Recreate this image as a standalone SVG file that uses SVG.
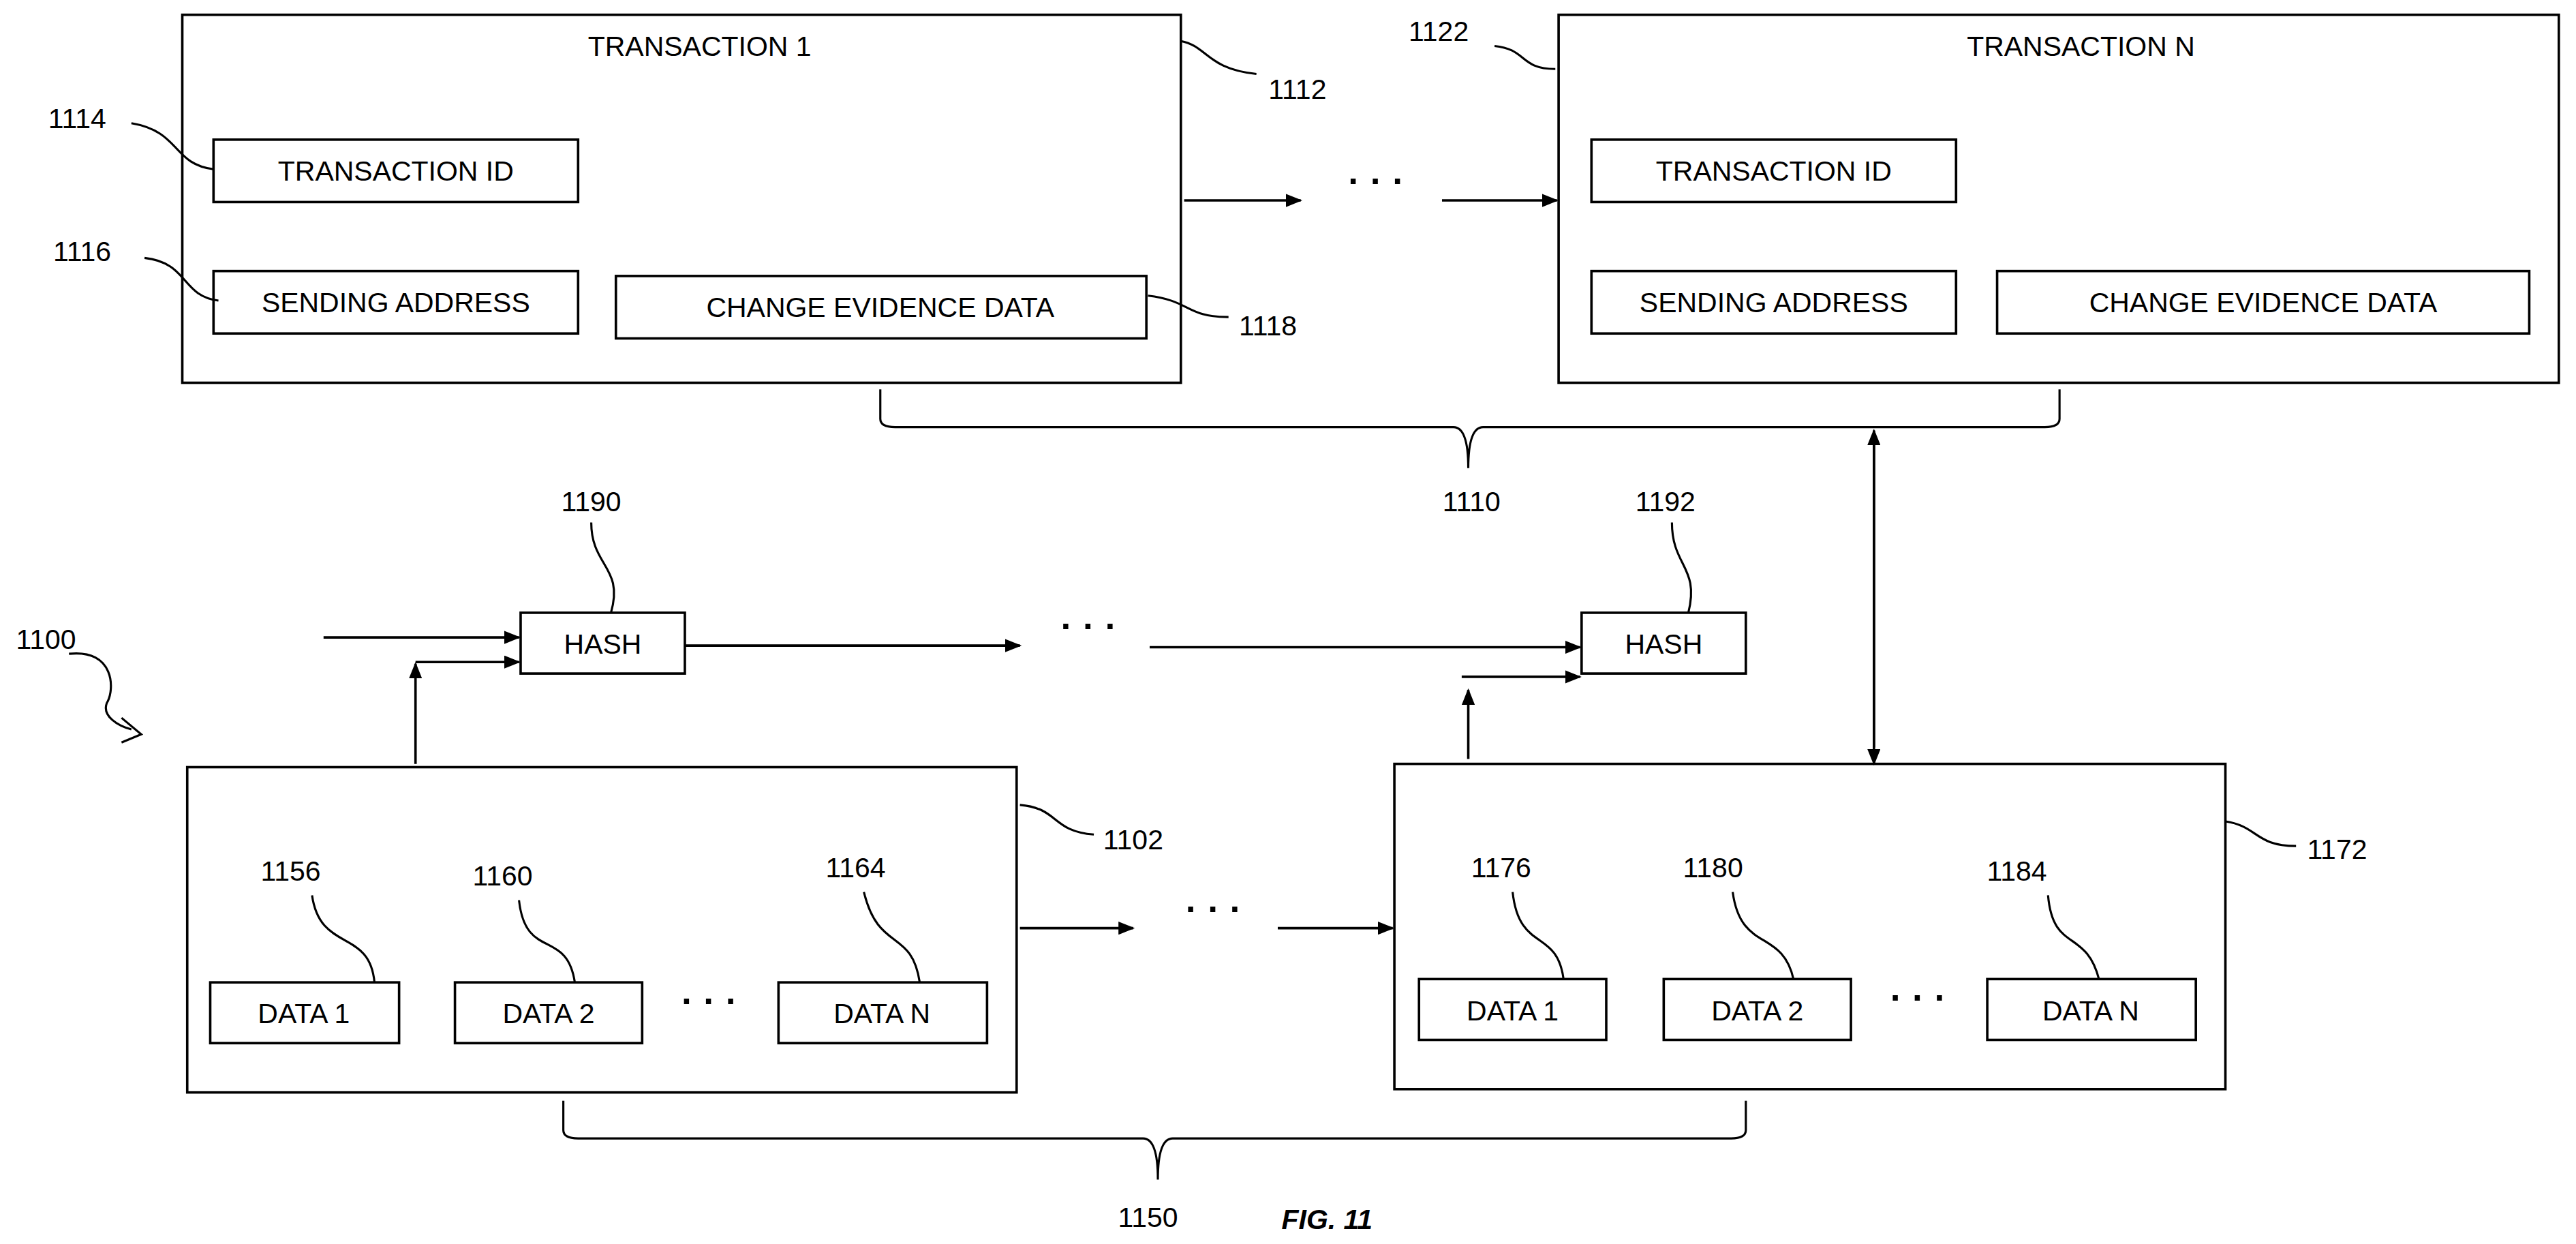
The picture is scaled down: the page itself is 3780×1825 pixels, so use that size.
<svg xmlns="http://www.w3.org/2000/svg" width="3780" height="1825" viewBox="0 0 3780 1825">
<style>
.b{fill:#fff;stroke:#000;stroke-width:1.5}
.l{fill:none;stroke:#000;stroke-width:1.3}
.a{fill:none;stroke:#000;stroke-width:1.5;marker-end:url(#ah)}
text{font-family:"Liberation Sans",Arial,sans-serif;font-size:17px;fill:#000;text-anchor:middle}
.d{font-size:22px;font-weight:bold}
</style>
<defs><marker id="ah" markerWidth="10" markerHeight="8" refX="9" refY="4" orient="auto" markerUnits="userSpaceOnUse"><path d="M0,0 L10,4 L0,8 Z" fill="#000"/></marker></defs>
<rect width="3780" height="1825" fill="#fff"/>
<g transform="scale(2.41)">
<g id="tx1"><rect class="b" x="111" y="9" width="608" height="224"/><text x="426" y="34">TRANSACTION 1</text></g>
<g id="tx1id"><rect class="b" x="130" y="85" width="222" height="38"/><text x="241" y="110">TRANSACTION ID</text></g>
<g id="tx1send"><rect class="b" x="130" y="165" width="222" height="38"/><text x="241" y="190">SENDING ADDRESS</text></g>
<g id="tx1chg"><rect class="b" x="375" y="168" width="323" height="38"/><text x="536" y="193">CHANGE EVIDENCE DATA</text></g>
<g id="txN"><rect class="b" x="949" y="9" width="609" height="224"/><text x="1267" y="34">TRANSACTION N</text></g>
<g id="txNid"><rect class="b" x="969" y="85" width="222" height="38"/><text x="1080" y="110">TRANSACTION ID</text></g>
<g id="txNsend"><rect class="b" x="969" y="165" width="222" height="38"/><text x="1080" y="190">SENDING ADDRESS</text></g>
<g id="txNchg"><rect class="b" x="1216" y="165" width="324" height="38"/><text x="1378" y="190">CHANGE EVIDENCE DATA</text></g>
<g id="hash1"><rect class="b" x="317" y="373" width="100" height="37"/><text x="367" y="398">HASH</text></g>
<g id="hash2"><rect class="b" x="963" y="373" width="100" height="37"/><text x="1013" y="398">HASH</text></g>
<g id="blk1"><rect class="b" x="114" y="467" width="505" height="198"/></g>
<g id="blk2"><rect class="b" x="849" y="465" width="506" height="198"/></g>
<g id="d1"><rect class="b" x="128" y="598" width="115" height="37"/><text x="185" y="623">DATA 1</text></g>
<g id="d2"><rect class="b" x="277" y="598" width="114" height="37"/><text x="334" y="623">DATA 2</text></g>
<g id="dN"><rect class="b" x="474" y="598" width="127" height="37"/><text x="537" y="623">DATA N</text></g>
<g id="d1b"><rect class="b" x="864" y="596" width="114" height="37"/><text x="921" y="621">DATA 1</text></g>
<g id="d2b"><rect class="b" x="1013" y="596" width="114" height="37"/><text x="1070" y="621">DATA 2</text></g>
<g id="dNb"><rect class="b" x="1210" y="596" width="127" height="37"/><text x="1273" y="621">DATA N</text></g>
<g id="connectors">
<path class="a" d="M721,122 H792"/><path class="a" d="M878,122 H948"/>
<path class="a" d="M197,388 H316"/>
<path class="a" d="M253,465 V404"/><path class="a" d="M253,403 H316"/>
<path class="a" d="M417,393 H621"/><path class="a" d="M700,394 H962"/>
<path class="a" d="M894,462 V420"/><path class="a" d="M890,412 H962"/>
<path class="a" d="M621,565 H690"/><path class="a" d="M778,565 H848"/>
<path class="a" d="M1141,270 V465"/><path class="a" d="M1141,455 V262"/>
<path class="l" d="M536,237 V255 Q536,260 545,260 H885 Q894,260 894,285 Q894,260 903,260 H1245 Q1254,260 1254,255 V237"/>
<path class="l" d="M343,670 V688 Q343,693 352,693 H696 Q705,693 705,718 Q705,693 714,693 H1054 Q1063,693 1063,688 V670"/>
<path class="l" d="M719,25 C735,28 735,42 765,45"/>
<path class="l" d="M910,28 C930,30 925,42 947,42"/>
<path class="l" d="M80,75 C110,80 105,100 130,103"/>
<path class="l" d="M88,157 C115,160 110,180 133,183"/>
<path class="l" d="M699,180 C725,183 722,193 748,193"/>
<path class="l" d="M360,318 C360,345 380,345 372,373"/>
<path class="l" d="M1018,318 C1018,345 1035,345 1028,373"/>
<path class="l" d="M621,490 C645,492 640,506 666,508"/>
<path class="l" d="M1355,500 C1375,503 1373,515 1398,515"/>
<path class="l" d="M190,545 C195,580 225,565 228,598"/>
<path class="l" d="M316,548 C320,585 345,565 350,598"/>
<path class="l" d="M526,543 C535,580 555,565 560,598"/>
<path class="l" d="M921,543 C925,580 948,565 952,596"/>
<path class="l" d="M1055,543 C1060,580 1085,565 1092,596"/>
<path class="l" d="M1247,545 C1250,580 1270,565 1278,596"/>
<path class="l" d="M42,398 C70,395 70,420 65,428 C62,436 72,442 80,444"/>
<path class="l" d="M74,437 L86,447 L74,452"/>
</g>
<g id="labels">
<text class="d" x="838" y="118">· · ·</text><text class="d" x="663" y="389">· · ·</text><text class="d" x="739" y="561">· · ·</text>
<text class="d" x="432" y="617">· · ·</text><text class="d" x="1168" y="615">· · ·</text>
<text x="790" y="60">1112</text><text x="876" y="25">1122</text><text x="47" y="78">1114</text>
<text x="50" y="159">1116</text><text x="772" y="204">1118</text><text x="896" y="311">1110</text>
<text x="360" y="311">1190</text><text x="1014" y="311">1192</text><text x="28" y="395">1100</text>
<text x="690" y="517">1102</text><text x="1423" y="523">1172</text>
<text x="177" y="536">1156</text><text x="306" y="539">1160</text><text x="521" y="534">1164</text>
<text x="914" y="534">1176</text><text x="1043" y="534">1180</text><text x="1228" y="536">1184</text>
<text x="699" y="747">1150</text>
<text x="808" y="748" font-weight="bold" font-style="italic">FIG. 11</text>
</g>
</g>
</svg>
